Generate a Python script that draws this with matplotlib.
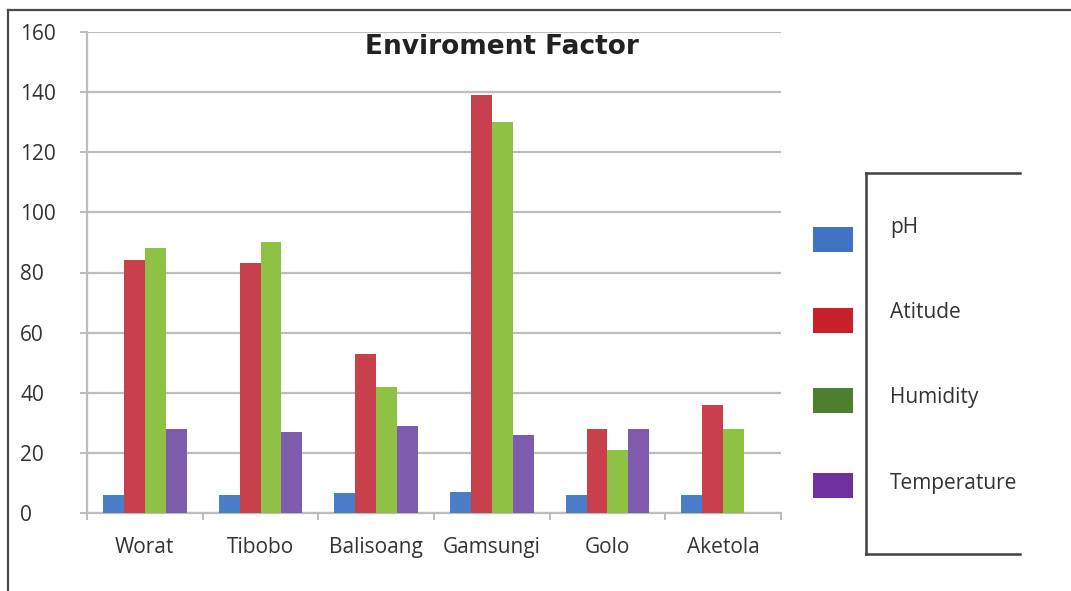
import numpy as np
import matplotlib
matplotlib.use("Agg")
import matplotlib.pyplot as plt
from matplotlib.patches import Rectangle
from matplotlib.lines import Line2D

# ---- data ----
sites = ["Worat", "Tibobo", "Balisoang", "Gamsungi", "Golo", "Aketola"]
series_names = ["pH", "Atitude", "Humidity", "Temperature"]
ph = [6, 6, 6.5, 7, 6, 6]
atitude = [84, 83, 53, 139, 28, 36]
humidity = [88, 90, 42, 130, 21, 28]
temperature = [28, 27, 29, 26, 28, np.nan]
y_ticks = [0, 20, 40, 60, 80, 100, 120, 140, 160]
title = "Enviroment Factor"

bar_colors = ["#4A7EC8", "#C8404B", "#8FC145", "#7F5BAE"]
legend_colors = ["#3F74C4", "#C8202A", "#4E7F2E", "#7030A0"]

W, H = 1071, 591
fig = plt.figure(figsize=(W / 100, H / 100), dpi=100)
fig.patch.set_facecolor("white")

def fx(px):
    return px / W

def fy(py):
    return 1 - py / H

# outer frame (left and top)
fig.add_artist(Line2D([fx(8), fx(8)], [fy(10), fy(591)], color="#4a4a4a", lw=1.6))
fig.add_artist(Line2D([fx(8), fx(1071)], [fy(10), fy(10)], color="#4a4a4a", lw=1.6))

ax = fig.add_axes([fx(87), fy(513), fx(781) - fx(87), fy(32) - fy(513)])
ax.set_xlim(-0.5, len(sites) - 0.5)
ax.set_ylim(0, 160)

series = [ph, atitude, humidity, temperature]
bw = 0.181
x = np.arange(len(sites))
for k, (vals, col) in enumerate(zip(series, bar_colors)):
    ax.bar(x + (k - 1.5) * bw, vals, width=bw, color=col, linewidth=0, zorder=3)

# grid & spines
ax.set_yticks(y_ticks)
ax.yaxis.grid(True, color="#BDBDBD", lw=1.6, zorder=0)
ax.set_axisbelow(True)
for s in ["top", "right"]:
    ax.spines[s].set_visible(False)
ax.spines["left"].set_color("#BDBDBD")
ax.spines["left"].set_linewidth(1.6)
ax.spines["bottom"].set_color("#BDBDBD")
ax.spines["bottom"].set_linewidth(1.6)

ax.tick_params(axis="y", length=5, width=1.4, color="#BDBDBD", pad=43,
               labelsize=15, labelcolor="#333333")
for lab in ax.get_yticklabels():
    lab.set_fontfamily("Open Sans")
    lab.set_horizontalalignment("left")

# x: labels at centers, ticks at boundaries
ax.set_xticks(x)
ax.set_xticklabels(sites, fontfamily="Open Sans", fontsize=15, color="#333333")
ax.tick_params(axis="x", length=0, pad=17)
ax.set_xticks(np.arange(len(sites) + 1) - 0.5, minor=True)
ax.tick_params(axis="x", which="minor", length=5, width=1.4, color="#BDBDBD")

fig.text(fx(502), fy(47), title, fontsize=19, fontweight="bold",
         fontfamily="DejaVu Sans", color="#222222", ha="center", va="center")

# legend box (open on the right)
lc = "#404040"
fig.add_artist(Line2D([fx(866), fx(1020)], [fy(173), fy(173)], color=lc, lw=1.8))
fig.add_artist(Line2D([fx(866), fx(866)], [fy(173), fy(554)], color=lc, lw=1.8))
fig.add_artist(Line2D([fx(866), fx(1020)], [fy(554), fy(554)], color=lc, lw=1.8))

patch_tops = [227, 308, 388, 473]
text_y = [227, 312, 398, 483]
for name, col, pt, ty in zip(series_names, legend_colors, patch_tops, text_y):
    fig.add_artist(Rectangle((fx(813), fy(pt + 25)), fx(40), 25 / H,
                             facecolor=col, edgecolor="none"))
    fig.text(fx(890), fy(ty), name, fontsize=15, fontfamily="Open Sans",
             color="#333333", ha="left", va="center")

fig.savefig("out.png", dpi=100, facecolor="white")
